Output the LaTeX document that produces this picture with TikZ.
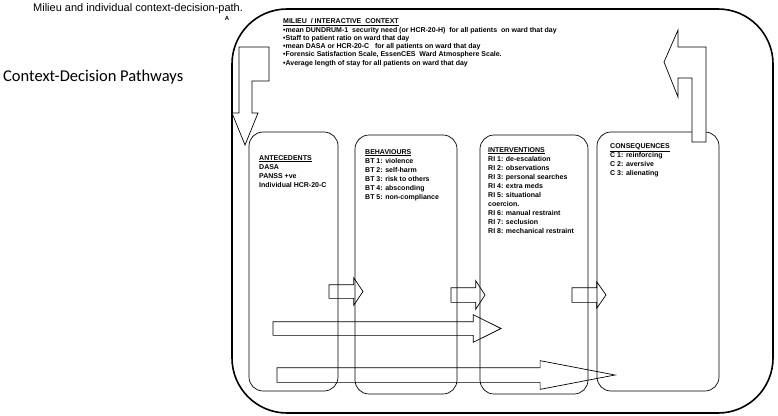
\documentclass[tikz,border=0pt]{standalone}
\usepackage{fontspec}
\setmainfont{Liberation Sans}
\newfontfamily\calibrifont{Carlito}
\usetikzlibrary{shapes.arrows, positioning, calc}

\begin{document}
\begin{tikzpicture}[
    x=1pt, y=-1pt,
    % Outer milieu frame
    milieubox/.style={
        rectangle, draw=black, line width=1.6pt, rounded corners=55pt,
        minimum width=541pt, minimum height=404pt, inner sep=0pt, outer sep=0pt
    },
    % Stage box (antecedents, behaviours, ...)
    stagebox/.style={
        rectangle, draw=black, line width=0.7pt, rounded corners=14pt,
        minimum height=259pt, inner sep=0pt, outer sep=0pt
    },
    % Text inside the boxes
    stagetext/.style={
        anchor=north west, align=left, inner sep=0pt,
        font=\fontsize{7}{9}\selectfont\bfseries
    },
    % Block arrows
    blockarrow/.style={
        single arrow, draw=black, line width=0.7pt, anchor=tail,
        inner xsep=0pt, minimum width=0pt, outer sep=0pt
    },
    bentarrow/.style={draw=black, line width=0.7pt, fill=white}
]
    \useasboundingbox (0,0) rectangle (778,415);

    % =========================================================================
    % Titles
    % =========================================================================
    \node[anchor=base west, inner sep=0pt, font=\fontsize{11}{13}\selectfont]
        (title) at (33,11.5) {Milieu and individual context-decision-path.};
    \node[inner sep=0pt, font=\fontsize{6}{7}\selectfont\bfseries]
        (mark) at (227,18) {A};
    \node[anchor=base west, inner sep=0pt, font=\fontsize{16.5}{19}\calibrifont]
        (pathways) at (3,81.5) {Context-Decision Pathways};

    % =========================================================================
    % Milieu frame
    % =========================================================================
    \node[milieubox] (milieu) at (502.5,211) {};
    \node[stagetext, font=\fontsize{7}{8.3}\selectfont\bfseries]
        (milieutxt) at (283,18.5) {%
        \underline{MILIEU\ \ / INTERACTIVE\ \ CONTEXT}\\
        \textbullet mean DUNDRUM-1\ \ security need (or HCR-20-H)\ \ for all patients\ \ on ward that day\\
        \textbullet Staff to patient ratio on ward that day\\
        \textbullet mean DASA or HCR-20-C\ \ \ for all patients on ward that day\\
        \textbullet Forensic Satisfaction Scale, EssenCES\ \ Ward Atmosphere Scale.\\
        \textbullet Average length of stay for all patients on ward that day
    };

    % =========================================================================
    % Stage boxes
    % =========================================================================
    \node[stagebox, minimum width=89pt]  (ante) at (293.5,261.5) {};
    \node[stagebox, minimum width=102pt] (beh)  at (406,264.5) {};
    \node[stagebox, minimum width=108pt] (int)  at (534,264.5) {};
    \node[stagebox, minimum width=122pt] (cons) at (658,261.5) {};

    \node[stagetext] (antetxt) at (259,155) {%
        \underline{ANTECEDENTS}\\
        DASA\\
        PANSS +ve\\
        Individual HCR-20-C
    };
    \node[stagetext] (behtxt) at (365,149) {%
        \underline{BEHAVIOURS}\\
        BT 1: violence\\
        BT 2: self-harm\\
        BT 3: risk to others\\
        BT 4: absconding\\
        BT 5: non-compliance
    };
    \node[stagetext] (inttxt) at (488,147) {%
        \underline{INTERVENTIONS}\\
        RI 1: de-escalation\\
        RI 2: observations\\
        RI 3: personal searches\\
        RI 4: extra meds\\
        RI 5: situational\\
        coercion.\\
        RI 6: manual restraint\\
        RI 7: seclusion\\
        RI 8: mechanical restraint
    };
    \node[stagetext] (constxt) at (610,143) {%
        \underline{CONSEQUENCES}\\
        C 1: reinforcing\\
        C 2: aversive\\
        C 3: alienating
    };

    % =========================================================================
    % Block arrows between stages
    % =========================================================================
    \node[blockarrow, inner ysep=6.5pt, single arrow head extend=7pt,
          single arrow tip angle=112, minimum height=34pt] (a2b) at (329,291.5) {};
    \node[blockarrow, inner ysep=7pt, single arrow head extend=7pt,
          single arrow tip angle=114, minimum height=34pt] (b2i) at (451,295) {};
    \node[blockarrow, inner ysep=7pt, single arrow head extend=6pt,
          single arrow tip angle=110, minimum height=34pt] (i2c) at (572,295) {};

    % Long pathways
    \node[blockarrow, inner ysep=6.5pt, single arrow head extend=7pt,
          single arrow tip angle=53, minimum height=228pt] (longA) at (273,328.5) {};
    \node[blockarrow, inner ysep=7pt, single arrow head extend=7pt,
          single arrow tip angle=21.7, minimum height=338pt] (longB) at (277,375) {};

    % =========================================================================
    % Bent arrows: milieu -> antecedents, consequences -> milieu
    % =========================================================================
    \draw[bentarrow] (239,47) -- (269,47) -- (269,81) -- (252,81) -- (252,113)
        -- (258,113) -- (245,145) -- (232,113) -- (239,113) -- cycle;
    \draw[bentarrow] (692,142) -- (692,78) -- (678,78) -- (678,97) -- (664,62)
        -- (678,30) -- (678,47) -- (706,47) -- (706,142) -- cycle;

\end{tikzpicture}
\end{document}
